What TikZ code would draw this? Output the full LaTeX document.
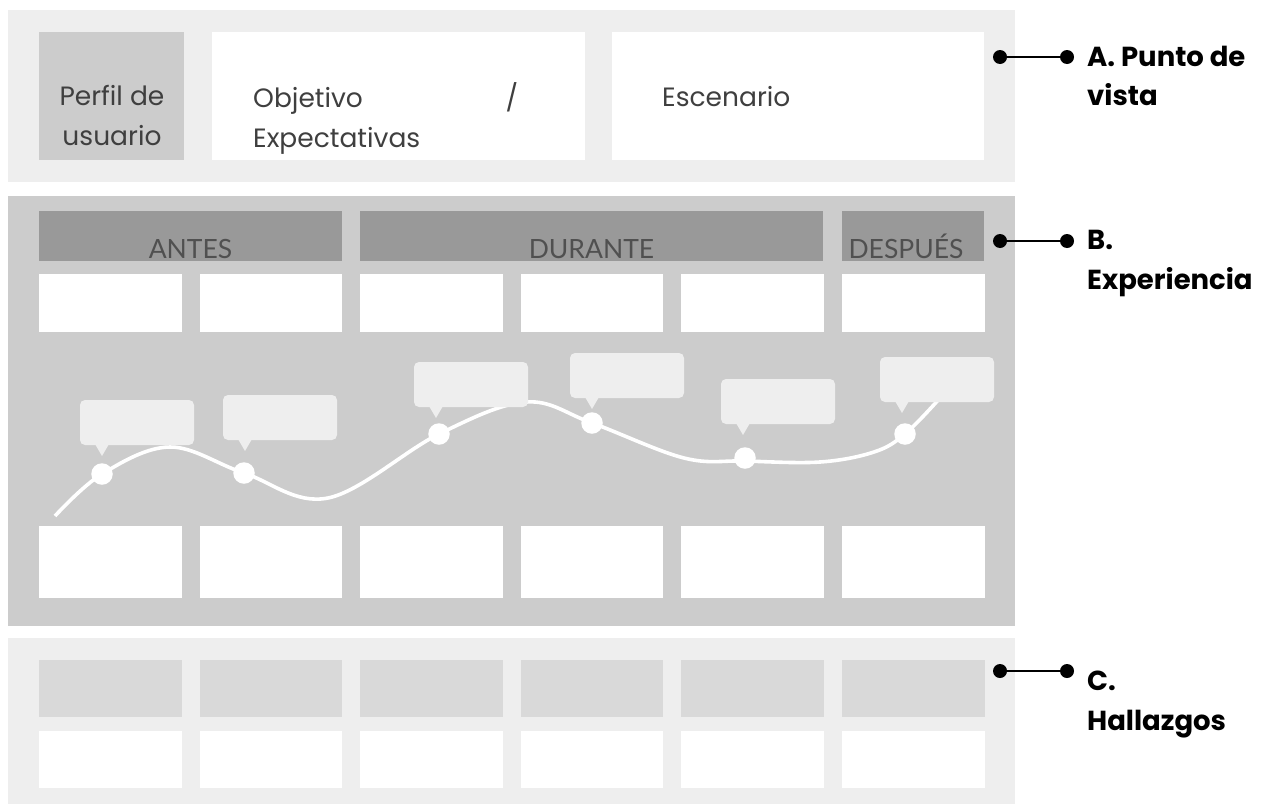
\documentclass[tikz,border=0pt]{standalone}
\usepackage{fontspec}
\setmainfont{Poppins}
\newfontfamily\hdrfont{Lato}
\usetikzlibrary{calc}

\definecolor{paneLight}{HTML}{EEEEEE}
\definecolor{paneMid}{HTML}{CCCCCC}
\definecolor{headGray}{HTML}{999999}
\definecolor{findGray}{HTML}{D9D9D9}
\definecolor{txtGray}{HTML}{3F3F3F}
\definecolor{hdrTxt}{HTML}{505050}

\tikzset{
  box/.style={anchor=north west, inner sep=0pt, outer sep=0pt, draw=none},
  panel/.style={box, minimum width=1007pt},
  cell/.style={box, fill=white, minimum width=142.5pt},
  headbox/.style={box, fill=headGray, minimum height=50pt},
  bubble/.style={box, fill=paneLight, rounded corners=5pt, minimum width=114pt, minimum height=45pt},
  pointer/.style={fill=paneLight},
  stopdot/.style={circle, fill=white, inner sep=0pt, minimum size=21.5pt},
  journey/.style={draw=white, line width=3.6pt},
  pin/.style={circle, fill=black, inner sep=0pt, minimum size=14pt},
  pinline/.style={draw=black, line width=1.8pt},
  bodytxt/.style={text=txtGray, inner sep=0pt, font=\fontsize{26.5}{40}\selectfont},
  hdrtxt/.style={text=hdrTxt, inner sep=0pt, anchor=base, font=\hdrfont\fontsize{26.5}{30}\selectfont},
  tag/.style={inner sep=0pt, anchor=base west, font=\bfseries\fontsize{27.5}{30}\selectfont}
}

\begin{document}
\begin{tikzpicture}[x=1pt, y=-1pt]
\useasboundingbox (0,0) rectangle (1261,806);
\fill[white] (0,0) rectangle (1261,806);

% ---- A. Punto de vista ----
\node[panel, fill=paneLight, minimum height=172pt] (pA) at (8,10) {};
\node[box, fill=paneMid, minimum width=145pt, minimum height=128pt] (perfil) at (39,32) {};
\node[box, fill=white, minimum width=373pt, minimum height=128pt] (objetivo) at (212,32) {};
\node[box, fill=white, minimum width=372pt, minimum height=128pt] (escenario) at (612,32) {};
\node[bodytxt, align=center, anchor=north] (tPerfil) at (112,85) {Perfil de\\usuario};
\node[bodytxt, align=left, text width=265pt, anchor=north west] (tObj) at (253,82) {Objetivo\hfill/\\Expectativas};
\node[bodytxt, anchor=base west] (tEsc) at (662,106) {Escenario};

% ---- B. Experiencia ----
\node[panel, fill=paneMid, minimum height=430pt] (pB) at (8,196) {};
\node[headbox, minimum width=303pt] (hAntes) at (39,211) {};
\node[headbox, minimum width=463pt] (hDurante) at (360,211) {};
\node[headbox, minimum width=142pt] (hDespues) at (842,211) {};
\node[hdrtxt] (tAntes) at (190.5,258) {ANTES};
\node[hdrtxt] (tDurante) at (591.5,258) {DURANTE};
\node[hdrtxt] (tDespues) at (906,258) {DESPUÉS};

\foreach \i in {0,...,5}{
  \node[cell, minimum height=58pt] (bt\i) at ({39+\i*160.6},274) {};
  \node[cell, minimum height=72pt] (bb\i) at ({39+\i*160.6},526) {};
}

% journey line
\draw[journey] plot[smooth, tension=0.6] coordinates {
  (55,516) (102,474) (170,447) (244,473) (328,498) (439,434) (526,402)
  (592,423) (684,458) (745,461) (820,462) (874,452) (905,434) (940,398)};

% speech bubbles
\foreach \n/\bx/\by in {1/80/400, 2/223/395, 3/414/362, 4/570/353, 5/721/379, 6/880/357}{
  \node[bubble] (bub\n) at (\bx,\by) {};
  \fill[pointer] ([xshift=15pt, yshift=1pt]bub\n.south west) -- ([xshift=22pt, yshift=-11pt]bub\n.south west)
     -- ([xshift=29pt, yshift=1pt]bub\n.south west) -- cycle;
}

% stops on the line
\node[stopdot] (s1) at (102,474) {};
\node[stopdot] (s2) at (244,473) {};
\node[stopdot] (s3) at (439,434) {};
\node[stopdot] (s4) at (592,423) {};
\node[stopdot] (s5) at (745,458) {};
\node[stopdot] (s6) at (905,434) {};

% ---- C. Hallazgos ----
\node[panel, fill=paneLight, minimum height=166pt] (pC) at (8,638) {};
\foreach \i in {0,...,5}{
  \node[box, fill=findGray, minimum width=142.5pt, minimum height=57pt] (ct\i) at ({39+\i*160.6},660) {};
  \node[cell, minimum height=57pt] (cb\i) at ({39+\i*160.6},731) {};
}

% ---- side labels ----
\node[pin] (pa1) at (1000,57) {};
\node[pin] (pa2) at (1067,57) {};
\draw[pinline] (pa1) -- (pa2);
\node[tag] (lA1) at (1087,66) {A. Punto de};
\node[tag] (lA2) at (1087,105) {vista};

\node[pin] (pb1) at (1000,241) {};
\node[pin] (pb2) at (1067,241) {};
\draw[pinline] (pb1) -- (pb2);
\node[tag] (lB1) at (1087,249) {B.};
\node[tag] (lB2) at (1087,289) {Experiencia};

\node[pin] (pc1) at (1000,671) {};
\node[pin] (pc2) at (1067,671) {};
\draw[pinline] (pc1) -- (pc2);
\node[tag] (lC1) at (1087,690) {C.};
\node[tag] (lC2) at (1087,730) {Hallazgos};
\end{tikzpicture}
\end{document}
